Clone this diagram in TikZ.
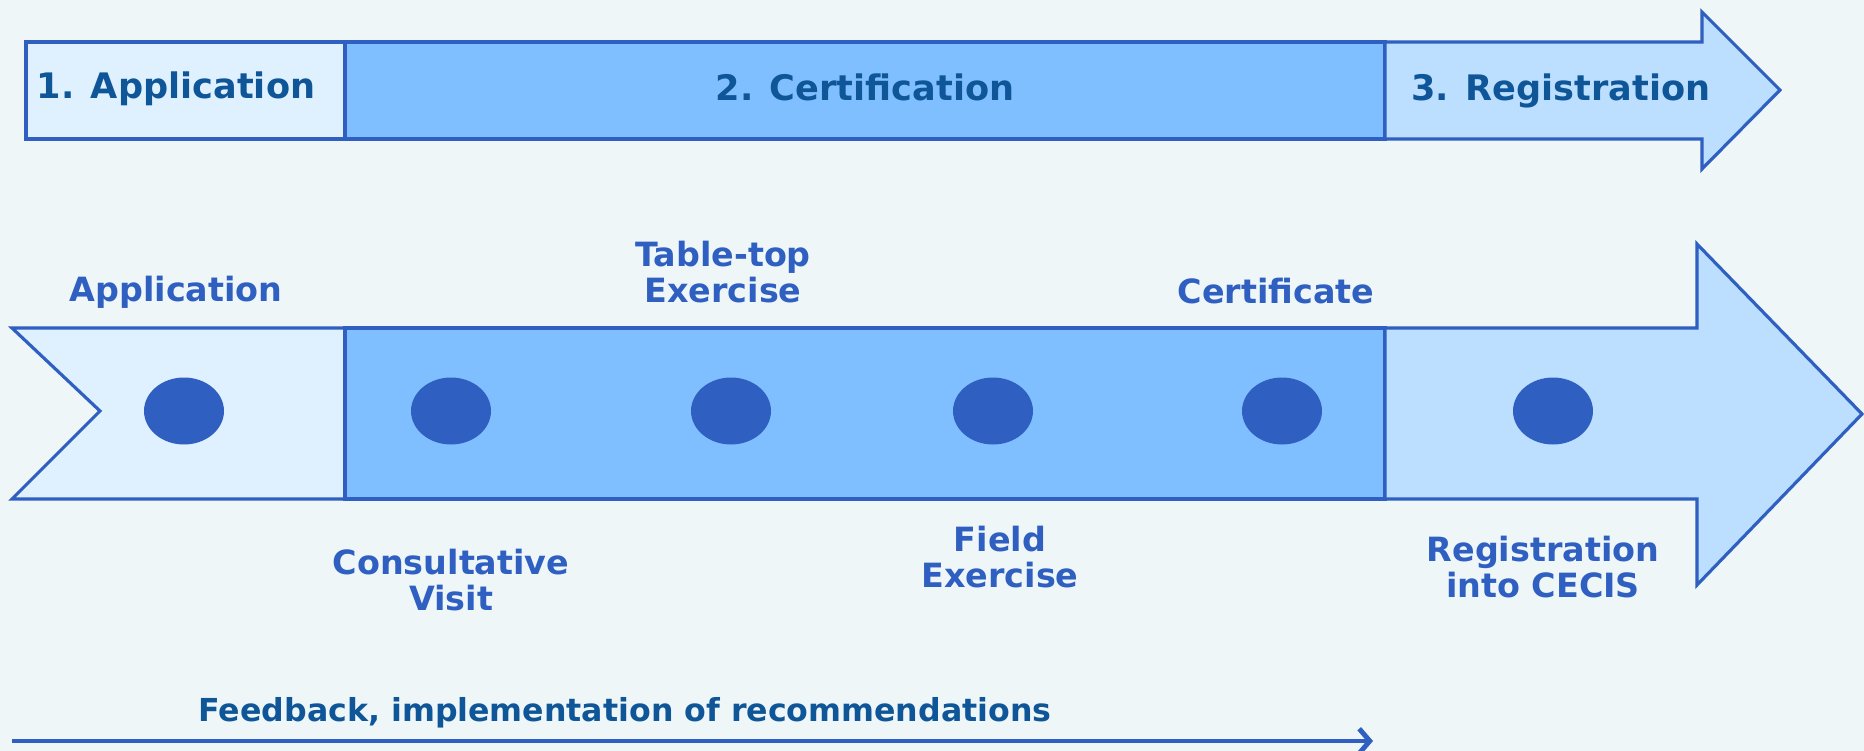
\documentclass[tikz,border=0pt]{standalone}
\usepackage{fontspec}
\setmainfont{DejaVu Sans}
\usetikzlibrary{shapes.geometric,arrows.meta}

\definecolor{bgcol}{HTML}{EEF6F8}
\definecolor{edgecol}{HTML}{2E5FC1}
\definecolor{lightfill}{HTML}{DFF0FF}
\definecolor{midfill}{HTML}{80BFFF}
\definecolor{palefill}{HTML}{BDDFFF}
\definecolor{darktext}{HTML}{0F5699}

\tikzset{
  part/.style={draw=edgecol, line width=1.8pt, line join=miter},
  phase/.style={font=\fontsize{20}{24}\selectfont\bfseries, text=darktext},
  lbl/.style={font=\fontsize{19}{21}\selectfont\bfseries, text=edgecol, align=center},
  dot/.style={ellipse, fill=edgecol, inner sep=0pt, minimum width=1.6cm, minimum height=1.34cm}
}

\begin{document}
\begin{tikzpicture}[x=0.02cm, y=-0.02cm]
    % Background
    \fill[bgcol] (0,0) rectangle (1864,751);
    \useasboundingbox (0,0) rectangle (1864,751);

    % Phases
    \draw[part, fill=lightfill] (26,42) rectangle (345,139);
    \draw[part, fill=midfill] (345,42) rectangle (1385,139);
    \draw[part, fill=palefill] (1385,42) -- (1702,42) -- (1702,12) -- (1780,90)
        -- (1702,169) -- (1702,139) -- (1385,139) -- cycle;
    \node[phase] (ph1) at (176,89) {1. Application};
    \node[phase] (ph2) at (865,87) {2. Certification};
    \node[phase] (ph3) at (1561,91) {3. Registration};

    % Steps arrow
    \draw[part, fill=lightfill] (12,328) -- (345,328) -- (345,499) -- (12,499)
        -- (100,411) -- cycle;
    \draw[part, fill=midfill] (345,328) rectangle (1385,499);
    \draw[part, fill=palefill] (1385,328) -- (1697,328) -- (1697,244) -- (1862,414)
        -- (1697,585) -- (1697,499) -- (1385,499) -- cycle;

    % Steps
    \foreach \name/\x in {app/184, visit/451, table/731, field/993, cert/1282, reg/1553}
        \node[dot] (\name) at (\x,411) {};

    % Labels
    \node[lbl] (lapp) at (176,292) {Application};
    \node[lbl] (ltable) at (723,272) {Table-top\\Exercise};
    \node[lbl] (lcert) at (1276,291) {Certificate};
    \node[lbl] (lvisit) at (451,580) {Consultative\\Visit};
    \node[lbl] (lfield) at (1000,557) {Field\\Exercise};
    \node[lbl] (lreg) at (1543,567) {Registration\\into CECIS};

    % Feedback
    \coordinate (fbstart) at (12,741);
    \coordinate (fbend) at (1373,741);
    \draw[edgecol, line width=2.8pt, -{Straight Barb[length=6pt,width=14pt]}] (fbstart) -- (fbend);
    \node[phase, font=\fontsize{18}{22}\selectfont\bfseries] (fbtext) at (625,713)
        {Feedback, implementation of recommendations};
\end{tikzpicture}
\end{document}
